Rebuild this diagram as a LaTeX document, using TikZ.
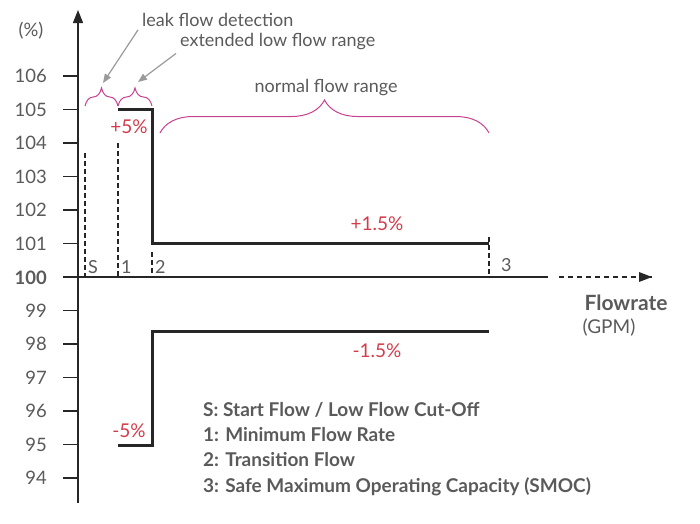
\documentclass[tikz,border=0pt]{standalone}
\usepackage{fontspec}
\setmainfont{Lato}
\usetikzlibrary{positioning}
\usetikzlibrary{arrows.meta}
\usetikzlibrary{decorations.pathreplacing}

\definecolor{txtgray}{HTML}{5A5A5A}
\definecolor{bracepink}{HTML}{C8418F}
\definecolor{pctred}{HTML}{D23C4B}
\definecolor{arrowgray}{HTML}{9A9A9A}

\tikzset{
    axisline/.style={line width=1.3pt,black!85},
    tickline/.style={line width=1.3pt,black!85},
    ticklabel/.style={anchor=east,text=txtgray,inner sep=0pt,
        font=\fontsize{18.5}{18.5}\selectfont},
    limitline/.style={line width=3pt,black!85},
    guide/.style={dash pattern=on 5pt off 3pt,line width=1.2pt,black!85},
    guidelabel/.style={anchor=west,text=txtgray,inner sep=0pt,
        font=\fontsize{18}{18}\selectfont},
    pct/.style={text=pctred,inner sep=0pt,font=\fontsize{19}{19}\selectfont},
    rangebrace/.style={bracepink,line width=1pt,
        decorate,decoration={brace,amplitude=#1}},
    note/.style={anchor=west,text=txtgray,inner sep=0pt,
        font=\fontsize{18}{18}\selectfont},
    pointer/.style={arrowgray,line width=1.2pt,
        -{Triangle[length=9pt,width=7pt]}}
}

\begin{document}
\begin{tikzpicture}[x=1pt,y=-1pt]
    \useasboundingbox (0,0) rectangle (700,523);

    % Axes
    \coordinate (O) at (78,277);
    \coordinate (ytop) at (78,10);
    \coordinate (ybot) at (78,503);
    \coordinate (xsolid) at (548,277);
    \coordinate (xdash) at (559,277);
    \coordinate (xtip) at (652,277);
    \draw[axisline,-{Triangle[length=13pt,width=10pt]}] (ybot) -- (ytop);
    \draw[axisline] (63,277) -- (xsolid);
    \draw[axisline,dash pattern=on 5pt off 4pt] (xdash) -- (xtip);
    \fill[black!85] (xtip) -- ++(-13,-5) -- ++(0,10) -- cycle;

    % Ticks and values
    \foreach \v in {94,...,106}
        \draw[tickline] (63,{277-(\v-100)*33.5}) -- (78,{277-(\v-100)*33.5});
    \foreach \v in {94,95,96,97,98,99,101,102,103,104,105,106}
        \node[ticklabel] (t\v) at (47,{277-(\v-100)*33.5}) {\v};
    \node[ticklabel,font=\fontsize{18.5}{18.5}\selectfont\bfseries] (t100) at (47,278) {100};
    \node[text=txtgray,font=\fontsize{18.5}{18.5}\selectfont] (unit) at (31,31) {(\%)};

    % Flow points
    \draw[guide] (85,153) -- (85,277);
    \draw[guide] (118,143) -- (118,277);
    \draw[guide] (152,252) -- (152,277);
    \draw[guide] (489,237) -- (489,277);
    \node[guidelabel] (pS) at (88,267) {S};
    \node[guidelabel] (p1) at (121,267) {1};
    \node[guidelabel] (p2) at (155,267) {2};
    \node[guidelabel] (p3) at (501,265) {3};

    % Accuracy limits
    \coordinate (hi1) at (118,109);
    \coordinate (hi2) at (152,109);
    \coordinate (hi3) at (152,243);
    \coordinate (hi4) at (489,243);
    \coordinate (lo1) at (118,445);
    \coordinate (lo2) at (152,445);
    \coordinate (lo3) at (152,331);
    \coordinate (lo4) at (489,331);
    \draw[limitline] (hi1) -- (hi2) -- (hi3) -- (hi4);
    \draw[limitline] (lo1) -- (lo2) -- (lo3) -- (lo4);
    \node[pct] (hiA) at (129,127) {+5\%};
    \node[pct] (hiB) at (377,224) {+1.5\%};
    \node[pct] (loB) at (377,351) {-1.5\%};
    \node[pct] (loA) at (129,431) {-5\%};

    % Ranges
    \draw[rangebrace=18pt] (85,106) -- (118,106);
    \draw[rangebrace=18pt] (118,106) -- (152,106);
    \draw[rangebrace=33pt] (160,133) -- (489,133);
    \coordinate (leaktip) at (103,83);
    \coordinate (exttip) at (138,82);
    \node[note] (leak) at (142,20) {leak flow detection};
    \node[note] (ext) at (180,42) {extended low flow range};
    \node[text=txtgray,inner sep=0pt,font=\fontsize{18}{18}\selectfont]
        (normal) at (326,88) {normal flow range};
    \draw[pointer] ([xshift=-4pt,yshift=-3pt]leak.south west) -- (leaktip);
    \draw[pointer] ([xshift=-4pt,yshift=-3pt]ext.south west) -- (exttip);

    % Axis title
    \node[text=txtgray,font=\fontsize{21}{21}\selectfont\bfseries] (flow) at (626,303) {Flowrate};
    \node[text=txtgray,font=\fontsize{19}{19}\selectfont] (gpm) at (609,328) {(GPM)};

    % Legend
    \node[anchor=north west,align=left,text=txtgray,inner sep=0pt,
        font=\fontsize{19}{25.3}\selectfont\bfseries] (legend) at (203,402)
        {S: Start Flow / Low Flow Cut-Off\\
         1: Minimum Flow Rate\\
         2: Transition Flow\\
         3: Safe Maximum Operating Capacity (SMOC)};
\end{tikzpicture}
\end{document}
